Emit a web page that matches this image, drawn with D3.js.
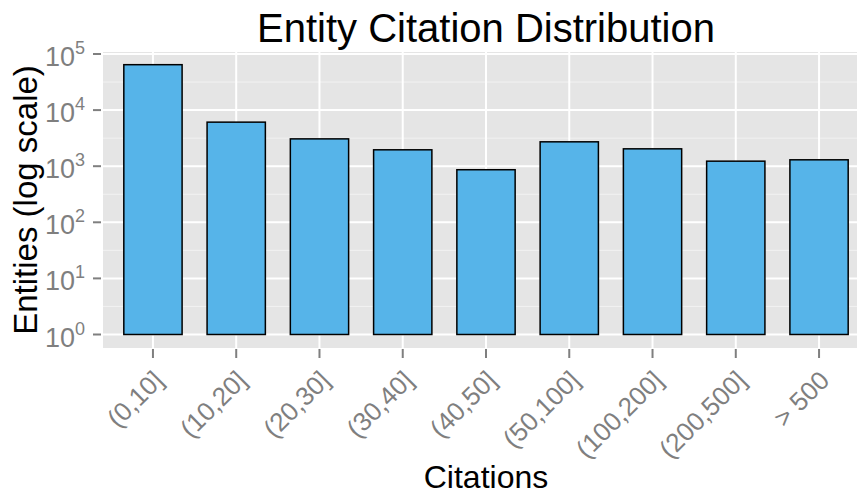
<!DOCTYPE html>
<html>
<head>
<meta charset="utf-8">
<script src="https://cdn.jsdelivr.net/npm/d3@7"></script>
<style>
  body { margin: 0; background: #fff; }
  svg { display: block; font-family: "Liberation Sans", Arial, Helvetica, sans-serif; }
</style>
</head>
<body>
<script>
const categories = ["(0,10]", "(10,20]", "(20,30]", "(30,40]", "(40,50]", "(50,100]", "(100,200]", "(200,500]", "> 500"];
const entities = [64500, 6100, 3070, 1960, 865, 2720, 2040, 1230, 1300];
const yTickExps = [0, 1, 2, 3, 4, 5];

const width = 857;
const height = 495;

const panel = { left: 103, right: 869, top: 52, bottom: 348 };

const svg = d3.select("body")
  .append("svg")
  .attr("width", width)
  .attr("height", height);

const xScale = d3.scaleBand()
  .domain(categories)
  .range([panel.left, panel.right])
  .paddingInner(0.3)
  .paddingOuter(0.25);

const yScale = d3.scaleLog()
  .domain([1, 1e5])
  .range([334.5, 54]);

// panel background
svg.append("rect")
  .attr("x", panel.left)
  .attr("y", panel.top)
  .attr("width", panel.right - panel.left)
  .attr("height", panel.bottom - panel.top)
  .attr("fill", "#e5e5e5");

const grid = svg.append("g").attr("id", "grid");

// minor grid at half decades
grid.selectAll("line.minor")
  .data(yTickExps.slice(0, -1))
  .enter()
  .append("line")
  .attr("class", "minor")
  .attr("x1", panel.left)
  .attr("x2", panel.right)
  .attr("y1", (d) => yScale(Math.pow(10, d + 0.5)))
  .attr("y2", (d) => yScale(Math.pow(10, d + 0.5)))
  .attr("stroke", "#f2f2f2")
  .attr("stroke-width", 1);

grid.selectAll("line.major-y")
  .data(yTickExps)
  .enter()
  .append("line")
  .attr("class", "major-y")
  .attr("x1", panel.left)
  .attr("x2", panel.right)
  .attr("y1", (d) => yScale(Math.pow(10, d)))
  .attr("y2", (d) => yScale(Math.pow(10, d)))
  .attr("stroke", "#fff")
  .attr("stroke-width", 2);

grid.selectAll("line.major-x")
  .data(categories)
  .enter()
  .append("line")
  .attr("class", "major-x")
  .attr("x1", (d) => xScale(d) + xScale.bandwidth() / 2)
  .attr("x2", (d) => xScale(d) + xScale.bandwidth() / 2)
  .attr("y1", panel.top)
  .attr("y2", panel.bottom)
  .attr("stroke", "#fff")
  .attr("stroke-width", 2);

// bars
svg.append("g")
  .attr("id", "bars")
  .selectAll("rect")
  .data(categories)
  .enter()
  .append("rect")
  .attr("x", (d) => xScale(d))
  .attr("y", (d, i) => yScale(entities[i]))
  .attr("width", xScale.bandwidth())
  .attr("height", (d, i) => yScale(1) - yScale(entities[i]))
  .attr("fill", "#56b4e9")
  .attr("stroke", "#000")
  .attr("stroke-width", 1.5);

// y axis ticks + labels
const yAxis = svg.append("g").attr("id", "y-axis");

yAxis.selectAll("line")
  .data(yTickExps)
  .enter()
  .append("line")
  .attr("x1", 93)
  .attr("x2", 101)
  .attr("y1", (d) => yScale(Math.pow(10, d)))
  .attr("y2", (d) => yScale(Math.pow(10, d)))
  .attr("stroke", "#7f7f7f")
  .attr("stroke-width", 2);

const yLabels = yAxis.selectAll("text")
  .data(yTickExps)
  .enter()
  .append("text")
  .attr("x", 85)
  .attr("y", (d) => yScale(Math.pow(10, d)) + 12)
  .attr("text-anchor", "end")
  .attr("fill", "#7f7f7f")
  .style("font-size", "27px");

yLabels.append("tspan").text("10");
yLabels.append("tspan")
  .attr("dy", -12)
  .style("font-size", "18px")
  .text((d) => d);

// x axis ticks + labels
const xAxis = svg.append("g").attr("id", "x-axis");

xAxis.selectAll("line")
  .data(categories)
  .enter()
  .append("line")
  .attr("x1", (d) => xScale(d) + xScale.bandwidth() / 2)
  .attr("x2", (d) => xScale(d) + xScale.bandwidth() / 2)
  .attr("y1", 349)
  .attr("y2", 358)
  .attr("stroke", "#7f7f7f")
  .attr("stroke-width", 2);

xAxis.selectAll("text")
  .data(categories)
  .enter()
  .append("text")
  .attr("transform", (d) => `translate(${xScale(d) + xScale.bandwidth() / 2 + 12}, 382) rotate(-45)`)
  .attr("text-anchor", "end")
  .attr("fill", "#7f7f7f")
  .style("font-size", "26px")
  .text((d) => d);

// titles
svg.append("text")
  .attr("id", "title")
  .attr("x", (panel.left + panel.right) / 2)
  .attr("y", 42)
  .attr("text-anchor", "middle")
  .attr("fill", "#000")
  .style("font-size", "40px")
  .text("Entity Citation Distribution");

svg.append("text")
  .attr("id", "x-axis-label")
  .attr("x", (panel.left + panel.right) / 2)
  .attr("y", 488)
  .attr("text-anchor", "middle")
  .style("font-size", "32px")
  .text("Citations");

svg.append("text")
  .attr("id", "y-axis-label")
  .attr("transform", `translate(37, ${(panel.top + panel.bottom) / 2}) rotate(-90)`)
  .attr("text-anchor", "middle")
  .style("font-size", "33px")
  .text("Entities (log scale)");
</script>
</body>
</html>
